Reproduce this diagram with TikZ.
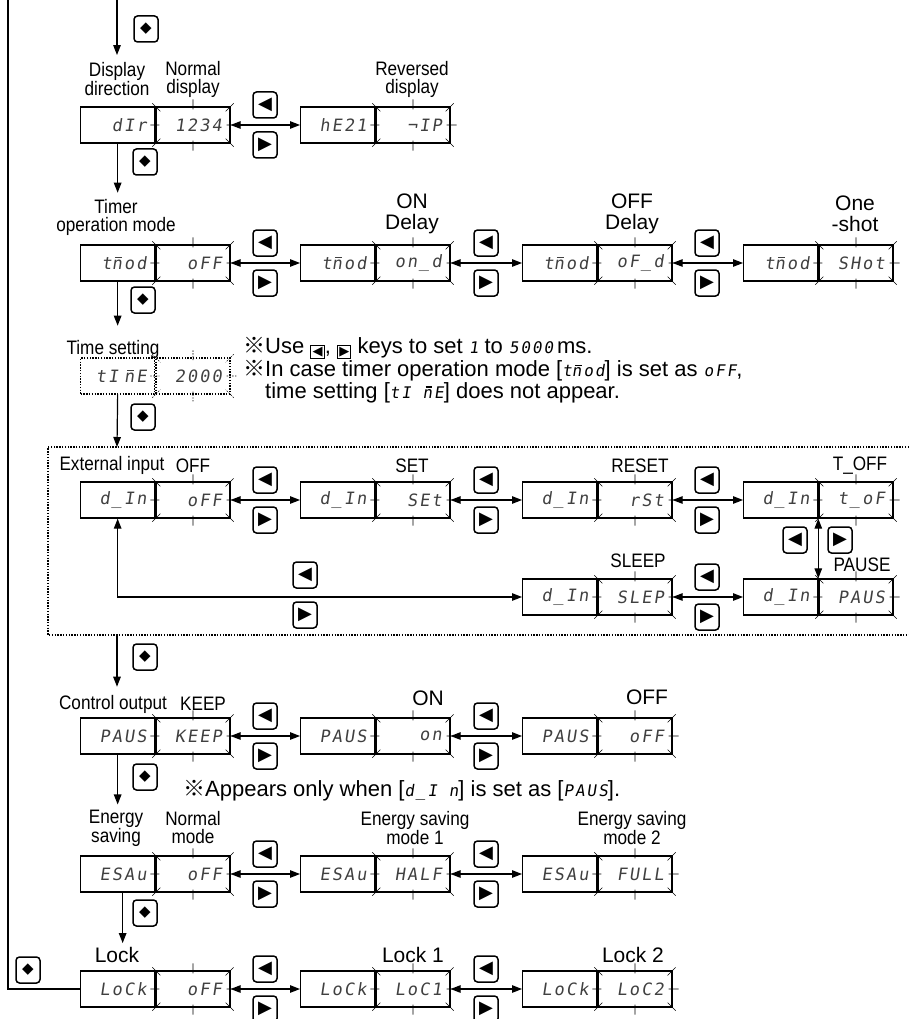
\documentclass[tikz,border=0pt]{standalone}
\usepackage{fontspec}
\setmainfont{Liberation Sans}
\newfontfamily\narrowfont[FakeStretch=0.88]{Liberation Sans}
\newfontfamily\segfont[FakeSlant=0.15,LetterSpace=12]{DejaVu Sans Mono}
\newfontfamily\symfont{DejaVu Sans}
\newfontfamily\cjkfont{Noto Sans CJK JP}
\usetikzlibrary{arrows.meta,positioning}

\newcommand\refmark{{\cjkfont ※}}
\newcommand\mbar{\leavevmode\rlap{\raisebox{0.66em}{\kern0.18em\rule{0.42em}{0.07em}}}n}
\newcommand\segs[1]{{\segfont\fontsize{16}{16}\selectfont #1}}
\newcommand\inkey[1]{{\setlength\fboxrule{1pt}\setlength\fboxsep{1.2pt}\raisebox{-2pt}{\fbox{\symfont\fontsize{13}{13}\selectfont #1}}}}

\tikzset{
  lbl/.style={font=\narrowfont\fontsize{19.5}{18}\selectfont, align=center, inner sep=0pt},
  biglbl/.style={font=\fontsize{21}{21}\selectfont, align=center, inner sep=0pt},
  note/.style={font=\fontsize{22}{21.5}\selectfont, align=left, inner sep=0pt, anchor=west},
  half/.style={draw, line width=1.3pt, minimum height=36pt, text width=58pt, inner xsep=8pt,
    inner ysep=0pt, align=right, font=\segfont\fontsize{17}{17}\selectfont, text=black!75},
  key/.style={draw, line width=1.5pt, rounded corners=3.5pt, minimum width=24pt,
    minimum height=26pt, inner sep=0pt, font=\symfont\fontsize{18}{18}\selectfont},
  dkey/.style={key, font=\symfont\fontsize{15}{15}\selectfont},
  link/.style={line width=1.2pt, {Triangle[length=10pt,width=7.5pt]}-{Triangle[length=10pt,width=7.5pt]}},
  flow/.style={line width=1.2pt, -{Triangle[length=10pt,width=7.5pt]}},
  tick/.style={line width=0.6pt},
  dots/.style={dash pattern=on 1.4pt off 1.4pt}
}

% display: #2 name, #3 left x, #4 centre y, #5 item, #6 value
\newcommand\dispbox[6][]{%
  \node[half,#1,anchor=west] (#2l) at (#3,#4) {#5};
  \node[half,#1,right=0pt of #2l] (#2r) {#6};
  \draw[tick,#1] ([yshift=7pt]#2r.north) -- ([yshift=-3pt]#2r.north)
    ([yshift=3pt]#2r.south) -- ([yshift=-7pt]#2r.south)
    ([xshift=-5pt]#2r.west) -- ([xshift=4pt]#2r.west)
    ([xshift=-4pt]#2r.east) -- ([xshift=6pt]#2r.east)
    ([shift={(-3pt,3pt)}]#2r.north west) -- ([shift={(5pt,-5pt)}]#2r.north west)
    ([shift={(3pt,3pt)}]#2r.north east) -- ([shift={(-5pt,-5pt)}]#2r.north east)
    ([shift={(-3pt,-3pt)}]#2r.south west) -- ([shift={(5pt,5pt)}]#2r.south west)
    ([shift={(3pt,-3pt)}]#2r.south east) -- ([shift={(-5pt,5pt)}]#2r.south east);
}
% left/right keys: #1 name, #2 x, #3 centre y
\newcommand\keypair[3]{%
  \node[key] (#1u) at (#2,#3-20) {◀};
  \node[key] (#1d) at (#2,#3+20) {▶};
}

\begin{document}
\begin{tikzpicture}[x=1pt,y=-1pt]
\useasboundingbox (0,0) rectangle (909,1019);

% displays
\dispbox{dir}{80}{125}{dIr}{1234}
\dispbox{rev}{300}{125}{hE21}{¬IP}
\dispbox{tmoff}{80}{263}{t\mbar od}{oFF}
\dispbox{tmon}{300}{263}{t\mbar od}{on\_d}
\dispbox{tmofd}{522}{263}{t\mbar od}{oF\_d}
\dispbox{tmsht}{743}{263}{t\mbar od}{SHot}
\dispbox[dots]{time}{80}{376}{tI \mbar E}{2000}
\dispbox{inoff}{80}{500}{d\_In}{oFF}
\dispbox{inset}{300}{500}{d\_In}{SEt}
\dispbox{inrst}{522}{500}{d\_In}{rSt}
\dispbox{intof}{743}{500}{d\_In}{t\_oF}
\dispbox{inslp}{522}{597}{d\_In}{SLEP}
\dispbox{inpau}{743}{597}{d\_In}{PAUS}
\dispbox{pskeep}{80}{736}{PAUS}{KEEP}
\dispbox{pson}{300}{736}{PAUS}{on}
\dispbox{psoff}{522}{736}{PAUS}{oFF}
\dispbox{esoff}{80}{874}{ESAu}{oFF}
\dispbox{eshalf}{300}{874}{ESAu}{HALF}
\dispbox{esfull}{522}{874}{ESAu}{FULL}
\dispbox{lckoff}{80}{989}{LoCk}{oFF}
\dispbox{lckone}{300}{989}{LoCk}{LoC1}
\dispbox{lcktwo}{522}{989}{LoCk}{LoC2}

% labels
\node[lbl] (dirlbl) at (117,79) {Display\\direction};
\node[lbl] (nrmlbl) at (193,79) {Normal\\display};
\node[lbl] (revlbl) at (412,79) {Reversed\\display};
\node[lbl] (tmlbl) at (116,217) {Timer\\operation mode};
\node[biglbl] (ondlbl) at (412,214) {ON\\Delay};
\node[biglbl] (offdlbl) at (632,214) {OFF\\Delay};
\node[biglbl] (shtlbl) at (855,214) {One\\-shot};
\node[lbl] (tslbl) at (113,349) {Time setting};
\node[lbl] (extlbl) at (112,465) {External input};
\node[lbl] (offlbl) at (193,466) {OFF};
\node[lbl] (setlbl) at (412,466) {SET};
\node[lbl] (rstlbl) at (640,466) {RESET};
\node[lbl] (toflbl) at (860,466) {T\_OFF};
\node[lbl] (slplbl) at (638,561) {SLEEP};
\node[lbl] (paulbl) at (862,565) {PAUSE};
\node[lbl] (ctllbl) at (113,704) {Control output};
\node[lbl] (keeplbl) at (203,704) {KEEP};
\node[biglbl] (onlbl) at (428,698) {ON};
\node[biglbl] (offlbltwo) at (647,697) {OFF};
\node[lbl] (esvlbl) at (116,828) {Energy\\saving};
\node[lbl] (nmlbl) at (193,828) {Normal\\mode};
\node[lbl] (esonelbl) at (415,828) {Energy saving\\mode 1};
\node[lbl] (estwolbl) at (632,828) {Energy saving\\mode 2};
\node[biglbl] (lcklbl) at (117,955) {Lock};
\node[biglbl] (lckonelbl) at (413,955) {Lock 1};
\node[biglbl] (lcktwolbl) at (633,955) {Lock 2};

% notes
\node[note] (tmnote) at (243,370) {\refmark Use \inkey{◀}, \inkey{▶} keys to set \segs{1} to \segs{5000}\,ms.\\
  \refmark In case timer operation mode [\segs{t\mbar od}] is set as \segs{oFF},\\
  \hspace*{22pt}time setting [\segs{tI \mbar E}] does not appear.};
\node[note] (psnote) at (183,791) {\refmark Appears only when [\segs{d\_I n}] is set as [\segs{PAUS}].};

% keys
\node[dkey] (entkey) at (146,29) {◆};
\node[dkey] (dirkey) at (145,162) {◆};
\node[dkey] (tmkey) at (143,300) {◆};
\node[dkey] (timekey) at (143,417) {◆};
\node[dkey] (extkey) at (145,657) {◆};
\node[dkey] (pskey) at (145,777) {◆};
\node[dkey] (eskey) at (145,913) {◆};
\node[dkey] (lckkey) at (28,970) {◆};
\keypair{kdir}{265}{125}
\keypair{ktma}{265}{263}
\keypair{ktmb}{486}{263}
\keypair{ktmc}{707}{263}
\keypair{kina}{265}{500}
\keypair{kinb}{486}{500}
\keypair{kinc}{707}{500}
\keypair{kind}{707}{597}
\keypair{kloop}{305}{595}
\keypair{kpsa}{265}{736}
\keypair{kpsb}{486}{736}
\keypair{kesa}{265}{874}
\keypair{kesb}{486}{874}
\keypair{klca}{265}{989}
\keypair{klcb}{486}{989}
\node[key] (kvertu) at (795,540) {◀};
\node[key] (kvertd) at (840,540) {▶};

% external input group
\coordinate (exttop) at (117,447);
\coordinate (extbot) at (117,635);
\draw[line width=1.3pt, dots] (909,447) -- (48,447) -- (48,635) -- (909,635);

% flow downwards
\coordinate (rail) at (8,0);
\coordinate (entry) at (117,0);
\draw[line width=1.2pt] (rail) |- (lckoffl.west);
\draw[flow, shorten >=7pt] (entry) -- (entry |- dirlbl.north);
\draw[flow, shorten >=6pt] (dirl.south) -- (dirl.south |- tmlbl.north);
\draw[flow, shorten >=14pt] (tmoffl.south) -- (tmoffl.south |- tslbl.north);
\draw[flow] (timel.south) -- (exttop);
\draw[flow, shorten >=8pt] (extbot) -- (extbot |- ctllbl.north);
\draw[flow, shorten >=5pt] (pskeepl.south) -- (pskeepl.south |- esvlbl.north);
\draw[flow, shorten >=4pt] ([xshift=5pt]esoffl.south) -- ([xshift=5pt]esoffl.south |- lcklbl.north);

% left / right
\draw[link] (dirr.east) -- (revl.west);
\draw[link] (tmoffr.east) -- (tmonl.west);
\draw[link] (tmonr.east) -- (tmofdl.west);
\draw[link] (tmofdr.east) -- (tmshtl.west);
\draw[link] (inoffr.east) -- (insetl.west);
\draw[link] (insetr.east) -- (inrstl.west);
\draw[link] (inrstr.east) -- (intofl.west);
\draw[link] (inslpr.east) -- (inpaul.west);
\draw[link] (intofr.south west) -- (inpaur.north west);
\draw[link] (inoffl.south) |- (inslpl.west);
\draw[link] (pskeepr.east) -- (psonl.west);
\draw[link] (psonr.east) -- (psoffl.west);
\draw[link] (esoffr.east) -- (eshalfl.west);
\draw[link] (eshalfr.east) -- (esfulll.west);
\draw[link] (lckoffr.east) -- (lckonel.west);
\draw[link] (lckoner.east) -- (lcktwol.west);

\end{tikzpicture}
\end{document}
